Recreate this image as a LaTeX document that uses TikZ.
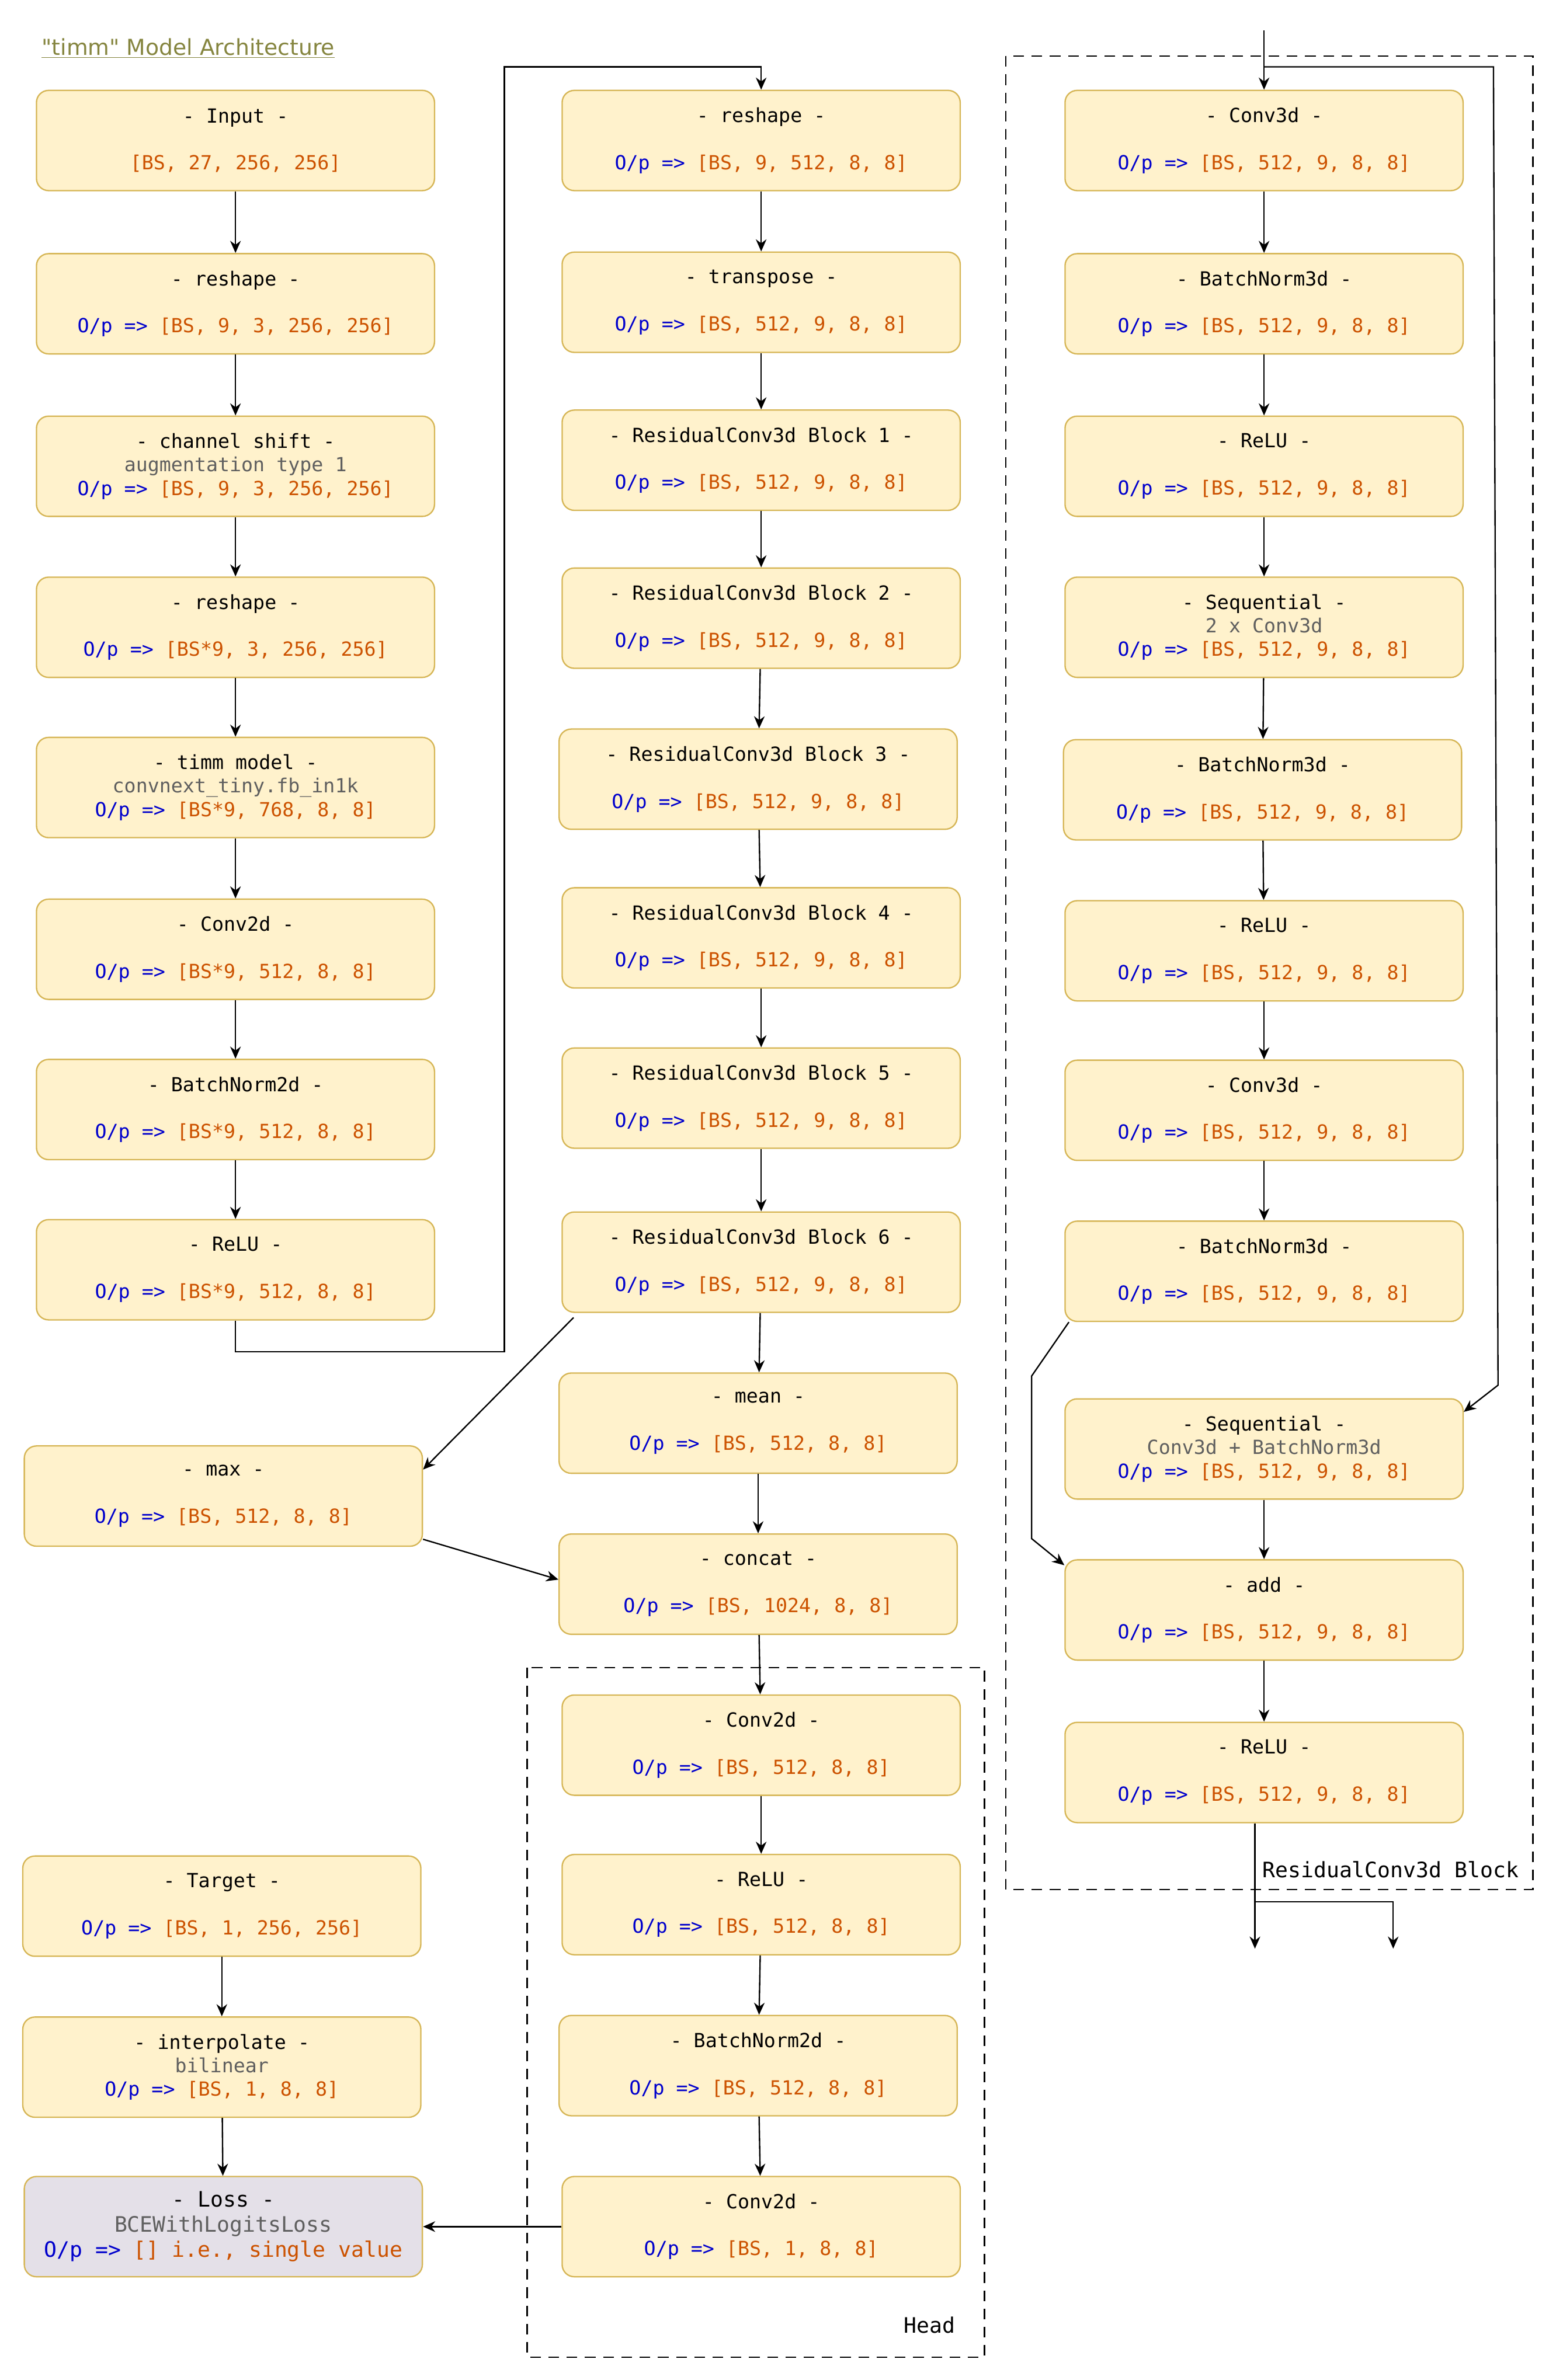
\documentclass[tikz,border=0pt]{standalone}
\usepackage{fontspec}
\usepackage{xcolor}
\usepackage{tikz}
\setmonofont{DejaVu Sans Mono}
\newfontfamily\titlefont{DejaVu Sans}
\usetikzlibrary{arrows.meta}
\definecolor{boxfill}{HTML}{FFF2CC}
\definecolor{boxline}{HTML}{D6B656}
\definecolor{lossfill}{HTML}{E4E0E8}
\definecolor{opblue}{HTML}{0000CC}
\definecolor{shapeorange}{HTML}{CC5200}
\definecolor{subgrey}{HTML}{5F5F5F}
\definecolor{titleolive}{HTML}{85853F}
\newcommand{\op}[1]{\textcolor{opblue}{O/p =>} \textcolor{shapeorange}{[#1]}}
\newcommand{\sub}[1]{\textcolor{subgrey}{#1}}
\tikzset{
	layer node/.style={rectangle,rounded corners=8pt,draw=boxline,fill=boxfill,line width=0.9pt,
		minimum width=262pt,minimum height=66pt,inner sep=0pt,align=center,
		font=\ttfamily\fontsize{12.8pt}{15.5pt}\selectfont},
	loss node/.style={layer node,fill=lossfill,font=\ttfamily\fontsize{14pt}{16.5pt}\selectfont},
	block/.style={draw,dashed,dash pattern=on 7pt off 5pt,line width=0.9pt,-},
	caption/.style={font=\ttfamily\fontsize{14pt}{16pt}\selectfont,inner sep=0pt}
}

\begin{document}
\begin{tikzpicture}[x=1pt,y=-1pt,->,>={Stealth[length=8pt,width=7pt]},line width=0.9pt]
      \useasboundingbox (0,0) rectangle (1024,1567);
      \node[anchor=west,inner sep=0pt,text=titleolive,font=\titlefont\fontsize{14.5pt}{16pt}\selectfont] (0) at (27,32) {\underline{"timm" Model Architecture}};

      % backbone
      \node[layer node] (1) at (155,92.5) {- Input -\\ \\ \textcolor{shapeorange}{[BS, 27, 256, 256]}};
      \node[layer node] (2) at (155,200) {- reshape -\\ \\ \op{BS, 9, 3, 256, 256}};
      \node[layer node] (3) at (155,307) {- channel shift -\\ \sub{augmentation type 1}\\ \op{BS, 9, 3, 256, 256}};
      \node[layer node] (4) at (155,413) {- reshape -\\ \\ \op{BS*9, 3, 256, 256}};
      \node[layer node] (5) at (155,518.5) {- timm model -\\ \sub{convnext\_tiny.fb\_in1k}\\ \op{BS*9, 768, 8, 8}};
      \node[layer node] (6) at (155,625) {- Conv2d -\\ \\ \op{BS*9, 512, 8, 8}};
      \node[layer node] (7) at (155,730.5) {- BatchNorm2d -\\ \\ \op{BS*9, 512, 8, 8}};
      \node[layer node] (8) at (155,836) {- ReLU -\\ \\ \op{BS*9, 512, 8, 8}};

      % 3d part
      \node[layer node] (9) at (501,92.5) {- reshape -\\ \\ \op{BS, 9, 512, 8, 8}};
      \node[layer node] (10) at (501,199) {- transpose -\\ \\ \op{BS, 512, 9, 8, 8}};
      \node[layer node] (11) at (501,303) {- ResidualConv3d Block 1 -\\ \\ \op{BS, 512, 9, 8, 8}};
      \node[layer node] (12) at (501,407) {- ResidualConv3d Block 2 -\\ \\ \op{BS, 512, 9, 8, 8}};
      \node[layer node] (13) at (499,513) {- ResidualConv3d Block 3 -\\ \\ \op{BS, 512, 9, 8, 8}};
      \node[layer node] (14) at (501,617.5) {- ResidualConv3d Block 4 -\\ \\ \op{BS, 512, 9, 8, 8}};
      \node[layer node] (15) at (501,723) {- ResidualConv3d Block 5 -\\ \\ \op{BS, 512, 9, 8, 8}};
      \node[layer node] (16) at (501,831) {- ResidualConv3d Block 6 -\\ \\ \op{BS, 512, 9, 8, 8}};
      \node[layer node] (17) at (499,937) {- mean -\\ \\ \op{BS, 512, 8, 8}};
      \node[layer node] (18) at (499,1043) {- concat -\\ \\ \op{BS, 1024, 8, 8}};
      \node[layer node] (23) at (147,985) {- max -\\ \\ \op{BS, 512, 8, 8}};

      % head
      \node[layer node] (19) at (501,1149) {- Conv2d -\\ \\ \op{BS, 512, 8, 8}};
      \node[layer node] (20) at (501,1254) {- ReLU -\\ \\ \op{BS, 512, 8, 8}};
      \node[layer node] (21) at (499,1360) {- BatchNorm2d -\\ \\ \op{BS, 512, 8, 8}};
      \node[layer node] (22) at (501,1466) {- Conv2d -\\ \\ \op{BS, 1, 8, 8}};
      \draw[block] (347,1098) rectangle (648,1552);
      \node[caption,anchor=east] (h) at (629,1531) {Head};

      % target and loss
      \node[layer node] (35) at (146,1255) {- Target -\\ \\ \op{BS, 1, 256, 256}};
      \node[layer node] (36) at (146,1361) {- interpolate -\\ \sub{bilinear}\\ \op{BS, 1, 8, 8}};
      \node[loss node] (37) at (147,1466) {- Loss -\\ \sub{BCEWithLogitsLoss}\\ \textcolor{opblue}{O/p =>} \textcolor{shapeorange}{[] i.e., single value}};

      % residual block
      \node[layer node] (24) at (832,92.5) {- Conv3d -\\ \\ \op{BS, 512, 9, 8, 8}};
      \node[layer node] (25) at (832,200) {- BatchNorm3d -\\ \\ \op{BS, 512, 9, 8, 8}};
      \node[layer node] (26) at (832,307) {- ReLU -\\ \\ \op{BS, 512, 9, 8, 8}};
      \node[layer node] (27) at (832,413) {- Sequential -\\ \sub{2 x Conv3d}\\ \op{BS, 512, 9, 8, 8}};
      \node[layer node] (28) at (831,520) {- BatchNorm3d -\\ \\ \op{BS, 512, 9, 8, 8}};
      \node[layer node] (29) at (832,626) {- ReLU -\\ \\ \op{BS, 512, 9, 8, 8}};
      \node[layer node] (30) at (832,731) {- Conv3d -\\ \\ \op{BS, 512, 9, 8, 8}};
      \node[layer node] (31) at (832,837) {- BatchNorm3d -\\ \\ \op{BS, 512, 9, 8, 8}};
      \node[layer node] (32) at (832,954) {- Sequential -\\ \sub{Conv3d + BatchNorm3d}\\ \op{BS, 512, 9, 8, 8}};
      \node[layer node] (33) at (832,1060) {- add -\\ \\ \op{BS, 512, 9, 8, 8}};
      \node[layer node] (34) at (832,1167) {- ReLU -\\ \\ \op{BS, 512, 9, 8, 8}};
      \draw[block] (662,37) rectangle (1009,1244);
      \node[caption,anchor=east] (r) at (1000,1231) {ResidualConv3d Block};

      \coordinate (j1) at (332,890);
      \coordinate (j2) at (332,44);
      \coordinate (in) at (832,20);
      \coordinate (k1) at (832,44);
      \coordinate (k2) at (983,44);
      \coordinate (k3) at (986,912);
      \coordinate (s1) at (679,906);
      \coordinate (s2) at (679,1013);
      \coordinate (o1) at (826,1283);
      \coordinate (o2) at (826,1252);
      \coordinate (o3) at (917,1283);

      \path
        (1) edge (2) (2) edge (3) (3) edge (4) (4) edge (5)
        (5) edge (6) (6) edge (7) (7) edge (8)
        (9) edge (10) (10) edge (11) (11) edge (12) (12) edge (13)
        (13) edge (14) (14) edge (15) (15) edge (16) (16) edge (17)
        (17) edge (18) (18) edge (19) (19) edge (20) (20) edge (21) (21) edge (22)
        (35) edge (36) (36) edge (37) (22) edge (37.east)
        (in) edge (24)
        (24) edge (25) (25) edge (26) (26) edge (27) (27) edge (28)
        (28) edge (29) (29) edge (30) (30) edge (31) (32) edge (33) (33) edge (34);
      \draw (8.south) |- (j1) -- (j2) -| (9.north);
      \draw ([xshift=8pt,yshift=-3pt]16.south west) -- ([yshift=-16pt]23.north east);
      \draw ([yshift=5pt]23.south east) -- ([yshift=3pt]18.west);
      \draw (k1) -- (k2) -- (k3) -- ([yshift=-9pt]32.north east);
      \draw ([xshift=3pt]31.south west) -- (s1) -- (s2) -- ([yshift=-4pt]33.north west);
      \draw ([xshift=-6pt]34.south) -- (o1);
      \draw (o2) -| (o3);
\end{tikzpicture}
\end{document}
